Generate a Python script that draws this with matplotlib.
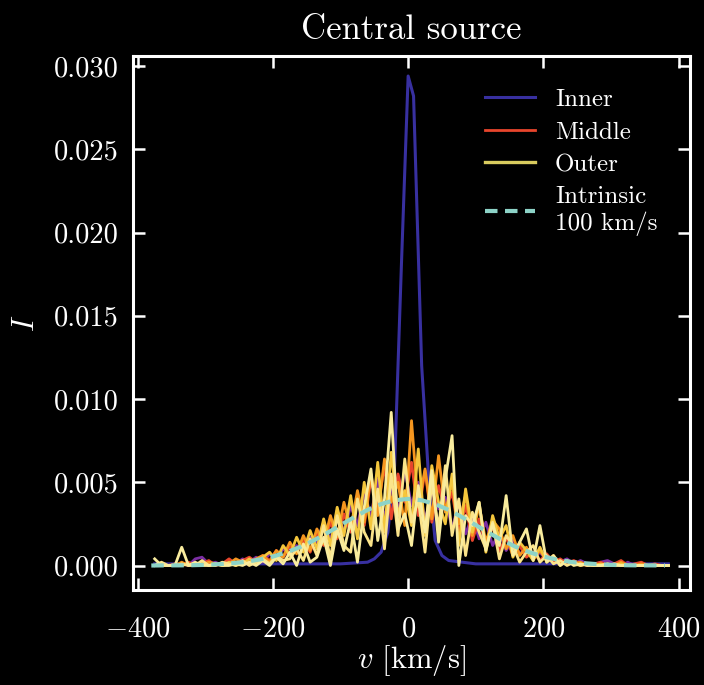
import numpy as np
import matplotlib
matplotlib.use('Agg')
import matplotlib.pyplot as plt

# Computer Modern look, white-on-black
plt.rcParams['font.family'] = 'serif'
plt.rcParams['font.serif'] = ['cmr10', 'DejaVu Serif']
plt.rcParams['mathtext.fontset'] = 'cm'
plt.rcParams['axes.formatter.use_mathtext'] = True

# velocity grid of the binned profiles (km/s)
v = [-375, -365, -355, -345, -335, -325, -315, -305, -295, -285, -275,
     -265, -255, -245, -235, -225, -215, -205, -195, -185, -175, -165,
     -155, -145, -135, -125, -115, -105, -95, -85, -75, -65, -55,
     -45, -35, -25, -15, -5, 5, 15, 25, 35, 45, 55,
     65, 75, 85, 95, 105, 115, 125, 135, 145, 155, 165,
     175, 185, 195, 205, 215, 225, 235, 245, 255, 265, 275,
     285, 295, 305, 315, 325, 335, 345, 355, 365, 375, 385]

# profiles in units of 1e-4
purple = [0, 0, 0, 0, 1, 0, 4, 5, 1, 2, 0,
          3, 1, 4, 2, 5, 2, 7, 4, 10, 6, 12,
          9, 17, 14, 26, 15, 33, 20, 36, 24, 44, 30,
          52, 28, 47, 31, 58, 36, 50, 27, 45, 34, 41,
          22, 38, 19, 30, 16, 26, 12, 20, 9, 15, 7,
          10, 4, 8, 3, 5, 2, 4, 1, 3, 1, 0,
          2, 3, 1, 0, 2, 0, 1, 0, 0, 0, 0]
red = [0, 0, 0, 1, 0, 2, 0, 1, 3, 0, 1,
       4, 1, 3, 5, 2, 6, 3, 9, 5, 11, 8,
       15, 8, 19, 12, 26, 16, 31, 20, 42, 24, 52,
       35, 60, 28, 55, 38, 62, 30, 57, 26, 48, 33,
       44, 20, 36, 15, 28, 12, 24, 9, 17, 6, 12,
       5, 8, 3, 7, 2, 4, 1, 3, 1, 0, 1,
       2, 0, 1, 3, 0, 1, 2, 0, 1, 0, 0]
orange = [0, 0, 0, 0, 2, 0, 1, 0, 2, 1, 0,
          1, 4, 2, 1, 4, 6, 2, 9, 5, 14, 7,
          18, 9, 22, 13, 30, 17, 38, 22, 45, 26, 55,
          30, 64, 38, 50, 24, 87, 35, 58, 28, 66, 32,
          50, 25, 42, 18, 36, 14, 27, 22, 10, 18, 6,
          11, 4, 9, 3, 6, 1, 3, 1, 2, 0, 1,
          0, 1, 0, 2, 0, 0, 1, 0, 0, 0, 0]
gold = [0, 0, 0, 0, 0, 1, 0, 2, 0, 1, 0,
        2, 0, 1, 4, 1, 5, 8, 3, 12, 6, 17,
        8, 21, 10, 28, 12, 35, 18, 42, 16, 50, 22,
        62, 20, 68, 30, 45, 24, 70, 18, 60, 38, 25,
        55, 12, 46, 20, 38, 8, 30, 16, 24, 5, 14,
        9, 3, 11, 2, 5, 0, 3, 1, 0, 1, 0,
        1, 0, 0, 1, 0, 0, 0, 0, 0, 0, 0]
cream = [0, 2, 0, 0, 1, 0, 0, 3, 0, 0, 2,
         1, 0, 3, 0, 2, 4, 1, 6, 3, 4, 10,
         3, 16, 6, 24, 4, 30, 12, 8, 40, 20, 12,
         46, 10, 55, 18, 64, 26, 40, 8, 50, 22, 60,
         18, 40, 6, 32, 20, 10, 26, 4, 18, 12, 2,
         8, 12, 2, 6, 1, 3, 0, 2, 0, 1, 0,
         0, 0, 1, 0, 0, 0, 0, 0, 0, 0, 0]
pale = [4, 0, 0, 0, 11, 0, 2, 0, 0, 1, 0,
        0, 1, 0, 2, 0, 3, 0, 5, 1, 8, 0,
        13, 2, 5, 17, 0, 22, 9, 27, 2, 35, 58,
        15, 40, 92, 22, 31, 12, 48, 20, 57, 14, 52,
        78, 0, 30, 24, 38, 9, 25, 12, 42, 6, 14,
        22, 3, 24, 2, 6, 0, 3, 0, 1, 0, 0,
        0, 1, 0, 0, 0, 0, 0, 0, 0, 0, 0]

# narrow inner profile (1e-4)
v_inner = [-375, -100, -60, -50, -40, -30, -20, -10, 0, 8, 20, 30, 40, 50, 60, 100, 385]
inner = [1, 1, 2, 4, 8, 20, 60, 180, 294, 282, 120, 55, 15, 6, 3, 1, 1]

# intrinsic 100 km/s profile (1e-4)
v_intr = [-380, -360, -340, -320, -300, -280, -260, -240, -220, -200, -180, -160,
          -140, -120, -100, -80, -60, -40, -20, 0, 20, 40, 60, 80, 100, 120,
          140, 160, 180, 200, 220, 240, 260, 280, 300, 320, 340, 360, 380]
intrinsic = [0.0, 0.1, 0.1, 0.2, 0.4, 0.8, 1.4, 2.2, 3.6, 5.4, 7.9, 11.1,
             15.0, 19.5, 24.3, 29.0, 33.4, 36.9, 39.2, 40.0, 39.2, 36.9, 33.4, 29.0, 24.3, 19.5,
             15.0, 11.1, 7.9, 5.4, 3.6, 2.2, 1.4, 0.8, 0.4, 0.2, 0.1, 0.1, 0.0]

scale = 1e-4
fig = plt.figure(figsize=(7.04, 6.85), dpi=100, facecolor='black')
ax = fig.add_axes([0.189, 0.1387, 0.7911, 0.7795], facecolor='black')

lw = 2.0
ax.plot(v_inner, np.array(inner) * scale, color='#3830a0', lw=2.2, label='Inner', zorder=2)
ax.plot(v, np.array(purple) * scale, color='#7b2ea3', lw=lw, zorder=3)
ax.plot(v, np.array(red) * scale, color='#e8452c', lw=lw, label='Middle', zorder=3)
ax.plot(v, np.array(orange) * scale, color='#f5961f', lw=lw, zorder=3)
ax.plot(v, np.array(gold) * scale, color='#f4c63c', lw=lw, zorder=3)
ax.plot(v, np.array(cream) * scale, color='#fbe48a', lw=lw, zorder=3)
ax.plot(v, np.array(pale) * scale, color='#f9ec9e', lw=lw, zorder=4)
ax.plot([], [], color='#d9cb5e', lw=2.4, label='Outer')
ax.plot(v_intr, np.array(intrinsic) * scale, color='#8dd3c7', lw=3.0, ls=(0, (3, 1.8)),
        label='Intrinsic\n100 km/s', zorder=5)

ax.set_xlim(-407, 417)
ax.set_ylim(-0.00147, 0.0306)
ax.set_xticks([-400, -200, 0, 200, 400])
ax.set_yticks([0.0, 0.005, 0.010, 0.015, 0.020, 0.025, 0.030])
ax.set_yticklabels(['0.000', '0.005', '0.010', '0.015', '0.020', '0.025', '0.030'])

for s in ax.spines.values():
    s.set_color('white')
    s.set_linewidth(2.2)
ax.tick_params(direction='in', top=True, right=True, length=8.5, width=1.8,
               colors='white', labelsize=20.5, pad=10)
ax.tick_params(axis='x', pad=19)

ax.set_title('Central source', color='white', fontsize=25, pad=12)
ax.set_xlabel(r'$v$ [km/s]', color='white', fontsize=22, labelpad=0)
ax.set_ylabel(r'$I$', color='white', fontsize=22, labelpad=10)

leg = ax.legend(loc='upper right', frameon=False, fontsize=18, handlelength=2.0,
                handletextpad=0.8, labelspacing=0.4, borderaxespad=0.9)
for t in leg.get_texts():
    t.set_color('white')

fig.savefig('out.png', dpi=100, facecolor='black')
